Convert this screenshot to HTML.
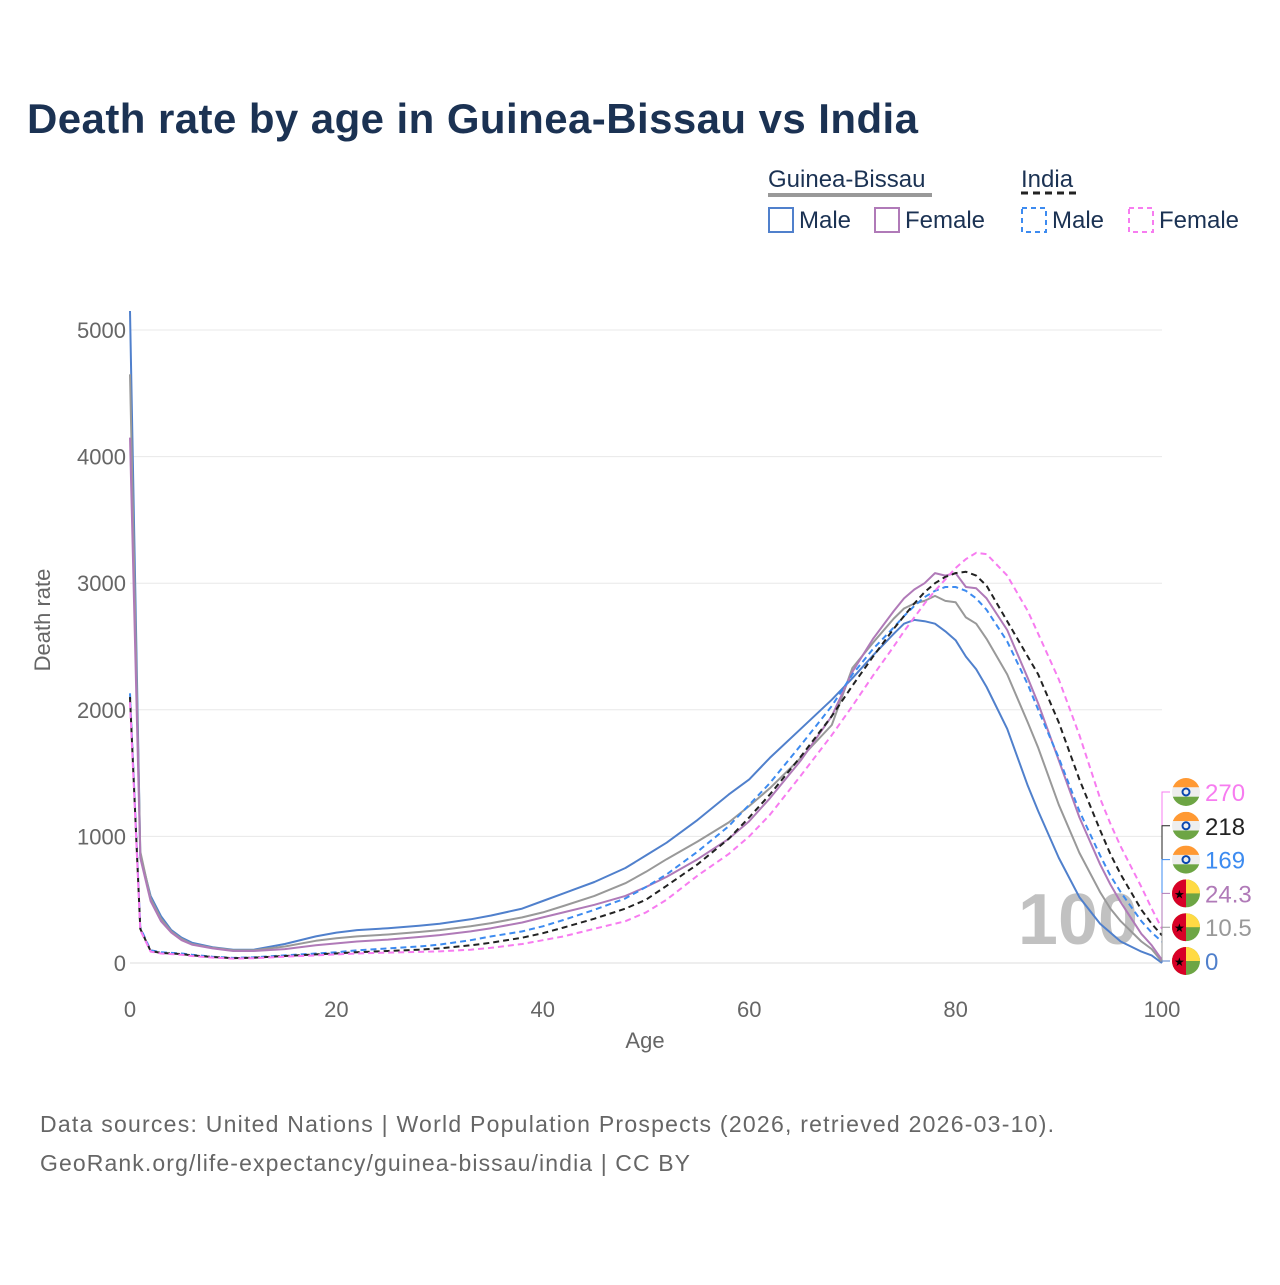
<!DOCTYPE html>
<html><head><meta charset="utf-8"><style>
body{margin:0;background:#fff;font-family:"Liberation Sans",sans-serif}
</style></head><body>
<svg width="1280" height="1280" xmlns="http://www.w3.org/2000/svg" id="chart" font-family="Liberation Sans, sans-serif">
<defs id="defs"></defs>
<rect width="1280" height="1280" fill="#fff"/>
<text x="27" y="133" font-size="42" font-weight="bold" fill="#1b3253" textLength="891">Death rate by age in Guinea-Bissau vs India</text>
<g font-size="24" fill="#1b3253">
<text x="768" y="187">Guinea-Bissau</text>
<line x1="768" y1="195" x2="932" y2="195" stroke="#999" stroke-width="4"/>
<text x="1021" y="187">India</text>
<line x1="1021" y1="193" x2="1078" y2="193" stroke="#222" stroke-width="3" stroke-dasharray="7,5"/>
<rect x="769" y="208" width="24" height="24" fill="none" stroke="#5080cc" stroke-width="2"/>
<text x="799" y="228">Male</text>
<rect x="875" y="208" width="24" height="24" fill="none" stroke="#b07ab8" stroke-width="2"/>
<text x="905" y="228">Female</text>
<rect x="1022" y="208" width="24" height="24" fill="none" stroke="#3d8bf0" stroke-width="2" stroke-dasharray="5,4"/>
<text x="1052" y="228">Male</text>
<rect x="1129" y="208" width="24" height="24" fill="none" stroke="#f77cf0" stroke-width="2" stroke-dasharray="5,4"/>
<text x="1159" y="228">Female</text>
</g>
<g id="grid"></g>
<text x="1078" y="944" font-size="72" font-weight="bold" fill="#bbb" text-anchor="middle" opacity="0.9">100</text>
<g id="lines"></g>
<g id="labels"></g>
<text x="645" y="1048" font-size="22" fill="#666" text-anchor="middle">Age</text>
<text transform="translate(50,620) rotate(-90)" font-size="22" fill="#666" text-anchor="middle">Death rate</text>
<text x="40" y="1132" font-size="23" fill="#666" textLength="1014">Data sources: United Nations | World Population Prospects (2026, retrieved 2026-03-10).</text>
<text x="40" y="1171" font-size="23" fill="#666" textLength="650">GeoRank.org/life-expectancy/guinea-bissau/india | CC BY</text>
</svg>
<script>
const ages=[0,1,2,3,4,5,6,8,10,12,15,18,20,22,25,28,30,33,35,38,40,42,45,48,50,52,55,58,60,62,65,68,70,72,74,75,76,77,78,79,80,81,82,83,85,87,88,90,92,94,95,96,98,99,100];
const gbMale=[5150,850,530,370,260,200,160,125,105,105,150,210,240,260,275,295,310,345,375,430,490,550,640,750,850,950,1130,1330,1450,1620,1850,2080,2250,2430,2600,2680,2710,2700,2680,2620,2550,2420,2320,2180,1850,1400,1200,830,520,310,240,170,90,60,0];
const gbTotal=[4650,880,510,350,250,190,150,120,100,100,130,175,195,210,225,245,260,290,315,360,400,450,530,630,720,820,960,1110,1240,1380,1620,1880,2330,2530,2720,2800,2840,2860,2900,2860,2850,2730,2680,2560,2280,1900,1700,1250,870,560,430,330,170,110,10.5];
const gbFemale=[4150,830,490,330,240,180,145,115,95,95,110,140,155,170,185,205,220,250,275,320,360,400,460,530,600,680,820,980,1120,1300,1600,1950,2300,2560,2780,2880,2950,3000,3080,3060,3080,2970,2960,2880,2630,2250,2050,1600,1150,780,620,480,230,140,24.3];
const inMale=[2130,280,100,85,80,75,65,50,40,45,60,75,85,100,115,130,145,180,210,250,290,340,420,510,600,700,880,1080,1250,1420,1720,2030,2280,2480,2650,2740,2820,2890,2940,2970,2970,2940,2880,2790,2540,2200,2000,1620,1200,850,690,560,330,240,169];
const inTotal=[2100,270,95,80,75,70,60,47,38,42,55,68,75,85,95,105,115,140,160,200,235,280,350,430,500,610,780,980,1150,1330,1630,1950,2190,2420,2640,2740,2840,2930,3000,3050,3080,3090,3060,2980,2700,2420,2280,1900,1450,1050,860,700,420,310,218];
const inFemale=[2060,260,90,75,70,65,55,43,35,38,50,60,68,75,82,88,92,105,120,150,180,210,270,330,400,500,690,860,1000,1170,1480,1800,2030,2270,2500,2620,2730,2840,2940,3030,3120,3190,3240,3230,3060,2780,2600,2240,1800,1300,1100,920,600,430,270];
const yTicks=[0,1000,2000,3000,4000,5000];
const xTicks=[0,20,40,60,80,100];
const endLabels=["270","218","169","24.3","10.5","0"];
const NS="http://www.w3.org/2000/svg";
const X=a=>130+a*10.32;
const Y=v=>963-v*0.1266;
function mk(t,at,parent){const e=document.createElementNS(NS,t);for(const k in at)e.setAttribute(k,at[k]);parent.appendChild(e);return e;}
const grid=document.getElementById('grid');
yTicks.forEach(v=>{
 const l=mk('line',{x1:130,x2:1162,y1:Y(v),y2:Y(v),stroke:v===0?'#ddd':'#e8e8e8','stroke-width':1},grid);
 
 
 const t=mk('text',{x:126,y:Y(v)+8,'font-size':22,fill:'#666','text-anchor':'end'},grid);
 t.textContent=v;
 
 
});
xTicks.forEach(v=>{
 const t=mk('text',{x:X(v),y:1017,'font-size':22,fill:'#666','text-anchor':'middle'},grid);
 t.textContent=v;
 
 
});
const series=[
 {d:gbMale,c:'#5080cc',dash:null,n:'gb-male-line'},
 {d:gbTotal,c:'#999',dash:null,n:'gb-total-line'},
 {d:gbFemale,c:'#b07ab8',dash:null,n:'gb-female-line'},
 {d:inMale,c:'#3d8bf0',dash:'6,4',n:'india-male-line'},
 {d:inTotal,c:'#222',dash:'6,4',n:'india-total-line'},
 {d:inFemale,c:'#f77cf0',dash:'6,4',n:'india-female-line'}
];
const lines=document.getElementById('lines');
series.forEach(s=>{
 const p=mk('path',{d:s.d.map((v,i)=>(i?'L':'M')+X(ages[i]).toFixed(1)+','+Y(v).toFixed(1)).join(''),fill:'none',stroke:s.c,'stroke-width':2,'stroke-linejoin':'round'},lines);
 if(s.dash)p.setAttribute('stroke-dasharray',s.dash);
 
 
});
const labs=document.getElementById('labels');
const defs=document.getElementById('defs');
const lc=['#f77cf0','#222','#3d8bf0','#b07ab8','#999','#5080cc'];
const endVals=[inFemale,inTotal,inMale,gbFemale,gbTotal,gbMale].map(a=>a[a.length-1]);
endLabels.forEach((txt,i)=>{
 const ly=792+i*33.8;
 mk('path',{d:`M${X(100)},${Y(endVals[i])}L${X(100)},${ly}L1170,${ly}`,fill:'none',stroke:lc[i],'stroke-width':1},labs);
 const cx=1186,cy=ly,r=14;
 const cp=mk('clipPath',{id:'fc'+i},defs);
 mk('circle',{cx:cx,cy:cy,r:r},cp);
 const g=mk('g',{'clip-path':`url(#fc${i})`},labs);
 
 
 if(i<3){
  mk('rect',{x:cx-r,y:cy-r,width:2*r,height:9.4,fill:'#ff9933'},g);
  mk('rect',{x:cx-r,y:cy-4.7,width:2*r,height:9.4,fill:'#eee'},g);
  mk('rect',{x:cx-r,y:cy+4.7,width:2*r,height:9.4,fill:'#6da544'},g);
  mk('circle',{cx:cx,cy:cy,r:3.5,fill:'none',stroke:'#0a47b0','stroke-width':2},g);
 } else {
  mk('rect',{x:cx-r,y:cy-r,width:2*r,height:2*r,fill:'#6da544'},g);
  mk('rect',{x:cx-r,y:cy-r,width:2*r,height:r,fill:'#ffda44'},g);
  mk('rect',{x:cx-r,y:cy-r,width:r,height:2*r,fill:'#d80027'},g);
  const t0=mk('text',{x:cx-12,y:cy+5,'font-size':12,fill:'#000'},g);t0.textContent='★';
 }
 const t=mk('text',{x:1205,y:ly+9,'font-size':24,fill:lc[i]},labs);
 t.textContent=txt;
 
 
});
</script>
</body></html>
